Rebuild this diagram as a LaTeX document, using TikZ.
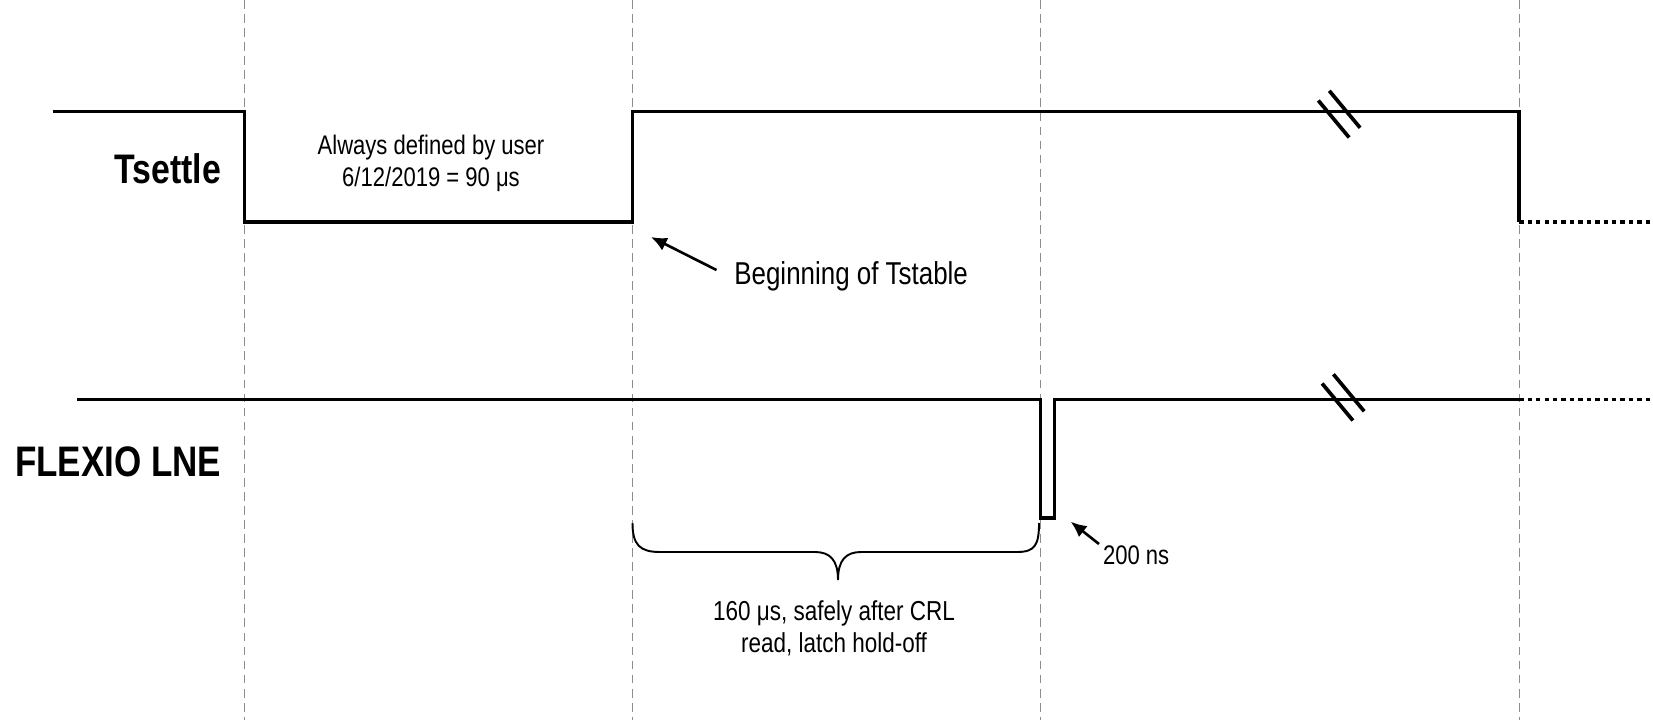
\documentclass[tikz,border=0pt]{standalone}
\usepackage{fontspec}
\setmainfont{Liberation Sans}[FakeStretch=0.82]
\usetikzlibrary{arrows.meta}
\begin{document}
\begin{tikzpicture}[x=0.02cm,y=-0.02cm,
  sig/.style={line width=2.1pt, line cap=butt, line join=miter},
  gridln/.style={draw=black!45, line width=0.6pt, dash pattern=on 5pt off 3pt},
  dots/.style={line width=2.1pt, dash pattern=on 2.5pt off 2.3pt},
  brk/.style={line width=2.1pt},
  lbl/.style={font=\fontsize{23.5}{28}\selectfont\bfseries, inner sep=0},
  txt/.style={font=\fontsize{15.3}{18}\selectfont, align=center, inner sep=0},
  bigtxt/.style={font=\fontsize{18}{21}\selectfont, inner sep=0},
  arr/.style={line width=1.5pt, -{Latex[length=9pt,width=8pt]}},
  bracestyle/.style={line width=1.1pt}]
\useasboundingbox (0,0) rectangle (1653,720);
% grid lines
\foreach \x/\n in {244.6/g1, 632.5/g2, 1040.6/g3, 1519.2/g4}
  \draw[gridln] (\x,0) coordinate (\n top) -- (\x,720) coordinate (\n bot);
% Tsettle signal
\draw[sig] (52.7,111.5) -- (244.6,111.5) -- (244.6,222) -- (632.5,222) -- (632.5,111.5) -- (1519.2,111.5) -- (1519.2,222);
\draw[dots] (1519.2,222) -- (1653,222);
\draw[brk] (1318.3,100.5) -- (1349.1,137.5);
\draw[brk] (1329.3,90.8) -- (1360.1,127.8);
% FLEXIO LNE signal
\draw[sig] (77,399.5) -- (1040.6,399.5) -- (1040.6,518) -- (1054.5,518) -- (1054.5,399.5) -- (1519.2,399.5);
\draw[dots] (1519.2,399.5) -- (1653,399.5);
\draw[brk] (1322.1,383.5) -- (1352.9,420.5);
\draw[brk] (1333.4,374.3) -- (1364.2,411.3);
% labels
\node[lbl, anchor=east] (tsettle) at (221.4,168.7) {Tsettle};
\node[lbl, anchor=west, font=\fontsize{24.3}{28}\selectfont\bfseries] (flexio) at (14.8,461.7) {FLEXIO LNE};
\node[txt] (always) at (431,163.4) {Always defined by user\\6/12/2019 = 90 μs};
\node[bigtxt, anchor=west] (begin) at (734,276.5) {Beginning of Tstable};
\coordinate (beginTip) at (651,237);
\draw[arr] (begin.west) ++(-17.5,-6.5) -- (beginTip);
\node[txt, anchor=west] (ns) at (1102.7,555) {200 ns};
\coordinate (nsTip) at (1070.7,521.7);
\draw[arr] (ns.west) ++(-3.7,-11) -- (nsTip);
% brace
\coordinate (bl) at (632.5,523);
\coordinate (br) at (1039,523);
\coordinate (bt) at (838,580);
\draw[bracestyle] (bl) .. controls (632.5,545) and (640,552) .. (660,552) -- (815,552)
  .. controls (830,552) and (838,560) .. (bt)
  .. controls (838,560) and (846,552) .. (861,552) -- (1017,552)
  .. controls (1035,552) and (1039,545) .. (br);
\node[txt, font=\fontsize{15.6}{18.2}\selectfont] (crl) at (834,628) {160 μs, safely after CRL\\read, latch hold-off};
\end{tikzpicture}
\end{document}
